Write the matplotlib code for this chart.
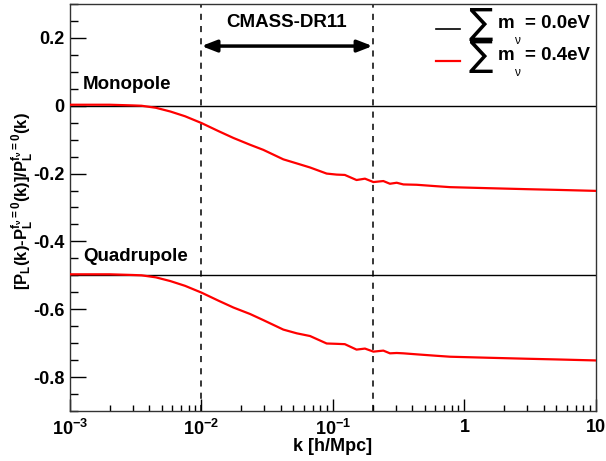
import matplotlib
matplotlib.use('Agg')
import matplotlib.pyplot as plt
from matplotlib.ticker import LogLocator, MultipleLocator, FixedLocator, FixedFormatter

plt.rcParams['font.family'] = ['Liberation Sans', 'DejaVu Sans']
plt.rcParams['font.weight'] = 'bold'
plt.rcParams['mathtext.fontset'] = 'custom'
plt.rcParams['mathtext.rm'] = 'Liberation Sans:bold'
plt.rcParams['mathtext.it'] = 'Liberation Sans:bold'
plt.rcParams['mathtext.bf'] = 'Liberation Sans:bold'

# --- data ---
k = [0.001, 0.002, 0.003, 0.0035, 0.0045, 0.0058, 0.0075, 0.01, 0.0135, 0.0175,
     0.0234, 0.0295, 0.0419, 0.053, 0.0669, 0.0895, 0.1066, 0.123, 0.151, 0.175,
     0.203, 0.2415, 0.271, 0.305, 0.343, 0.433, 0.6, 0.776, 1.5, 3.0, 5.0, 10.0]
monopole = [0.003, 0.003, 0.001, 0.0, -0.006, -0.017, -0.031, -0.051, -0.075, -0.095,
            -0.115, -0.130, -0.158, -0.170, -0.182, -0.200, -0.203, -0.204, -0.219, -0.215,
            -0.225, -0.222, -0.230, -0.227, -0.232, -0.233, -0.237, -0.240, -0.243, -0.246, -0.248, -0.251]
quadrupole = [-0.497, -0.497, -0.499, -0.500, -0.506, -0.517, -0.531, -0.551, -0.575, -0.595,
              -0.614, -0.632, -0.660, -0.671, -0.679, -0.701, -0.702, -0.703, -0.719, -0.716,
              -0.725, -0.722, -0.730, -0.729, -0.730, -0.733, -0.737, -0.740, -0.743, -0.746, -0.748, -0.751]
baselines = [0.0, -0.5]          # sum m_nu = 0.0 eV
survey_range = [0.01, 0.2]       # CMASS-DR11
legend_masses = ['0.0', '0.4']
legend_colors = ['black', 'red']

fig = plt.figure(figsize=(6.06, 4.61), dpi=100)
ax = fig.add_axes([0.1155, 0.1085, 0.868, 0.8828])

for b in baselines:
    ax.axhline(b, color='black', lw=1.0, zorder=2)
ax.plot(k, monopole, color='red', lw=1.6, zorder=3)
ax.plot(k, quadrupole, color='red', lw=1.6, zorder=3)

for x in survey_range:
    ax.axvline(x, color='black', lw=1.1, ls=(0, (4, 4)), zorder=1)
ax.annotate('', xy=(survey_range[0], 0.176), xytext=(survey_range[1], 0.176),
            arrowprops=dict(arrowstyle='<|-|>,head_length=0.9,head_width=0.35',
                            color='black', lw=2.5, shrinkA=0, shrinkB=0))
ax.text((survey_range[0] * survey_range[1]) ** 0.5, 0.246, 'CMASS-DR11',
        ha='center', va='center', fontsize=13.5, fontweight='bold')

ax.text(0.00126, 0.063, 'Monopole', ha='left', va='center', fontsize=13.5, fontweight='bold')
ax.text(0.00126, -0.444, 'Quadrupole', ha='left', va='center', fontsize=13.5, fontweight='bold')

# ROOT-style legend: big sum sign, nu subscript dropped well below the m
for i, (mass, col) in enumerate(zip(legend_masses, legend_colors)):
    dy = -0.0786 * i
    ax.plot([0.696, 0.741], [0.9386 + dy] * 2, color=col, lw=1.2 if i == 0 else 1.6,
            transform=ax.transAxes, clip_on=False)
    ax.text(0.781, 0.952 + dy, '\u2211', transform=ax.transAxes, ha='center', va='center',
            fontsize=26, fontweight='normal', family=['DejaVu Sans'])
    ax.text(0.814, 0.951 + dy, 'm', transform=ax.transAxes, ha='left', va='center',
            fontsize=13.5, fontweight='bold')
    ax.text(0.850, 0.908 + dy, '\u03bd', transform=ax.transAxes, ha='center', va='center',
            fontsize=8.5, fontweight='normal')
    ax.text(0.865, 0.951 + dy, f'= {mass}eV', transform=ax.transAxes, ha='left', va='center',
            fontsize=13.5, fontweight='bold')

ax.set_xscale('log')
ax.set_xlim(1e-3, 10)
ax.set_ylim(-0.9, 0.3)

ax.xaxis.set_major_locator(FixedLocator([1e-3, 1e-2, 1e-1, 1, 10]))
ax.xaxis.set_major_formatter(FixedFormatter([r'$10^{-3}$', r'$10^{-2}$', r'$10^{-1}$', '1', '10']))
ax.xaxis.set_minor_locator(LogLocator(base=10, subs=range(2, 10), numticks=20))
ax.yaxis.set_major_locator(MultipleLocator(0.2))
ax.yaxis.set_minor_locator(MultipleLocator(0.05))
ax.yaxis.set_major_formatter(plt.FuncFormatter(lambda v, p: '0' if abs(v) < 1e-9 else f'{v:.1f}'))

ax.tick_params(axis='y', which='major', direction='in', length=11.5, width=1, labelsize=13, pad=4)
ax.tick_params(axis='y', which='minor', direction='in', length=5.8, width=1)
ax.tick_params(axis='x', which='major', direction='in', length=8.5, width=1, labelsize=13, pad=6)
ax.tick_params(axis='x', which='minor', direction='in', length=4.2, width=1)
for s in ax.spines.values():
    s.set_linewidth(1.0)
    s.set_color('#333333')

ax.set_xlabel('k [h/Mpc]', fontsize=13, fontweight='bold', labelpad=-1)
ax.set_ylabel(r'[P$_{L}$(k)-P$_{L}^{f_{\nu}=0}$(k)]/P$_{L}^{f_{\nu}=0}$(k)',
              fontsize=12, fontweight='bold')
ax.yaxis.set_label_coords(-0.066, 0.516)

fig.savefig('out.png', dpi=100)
